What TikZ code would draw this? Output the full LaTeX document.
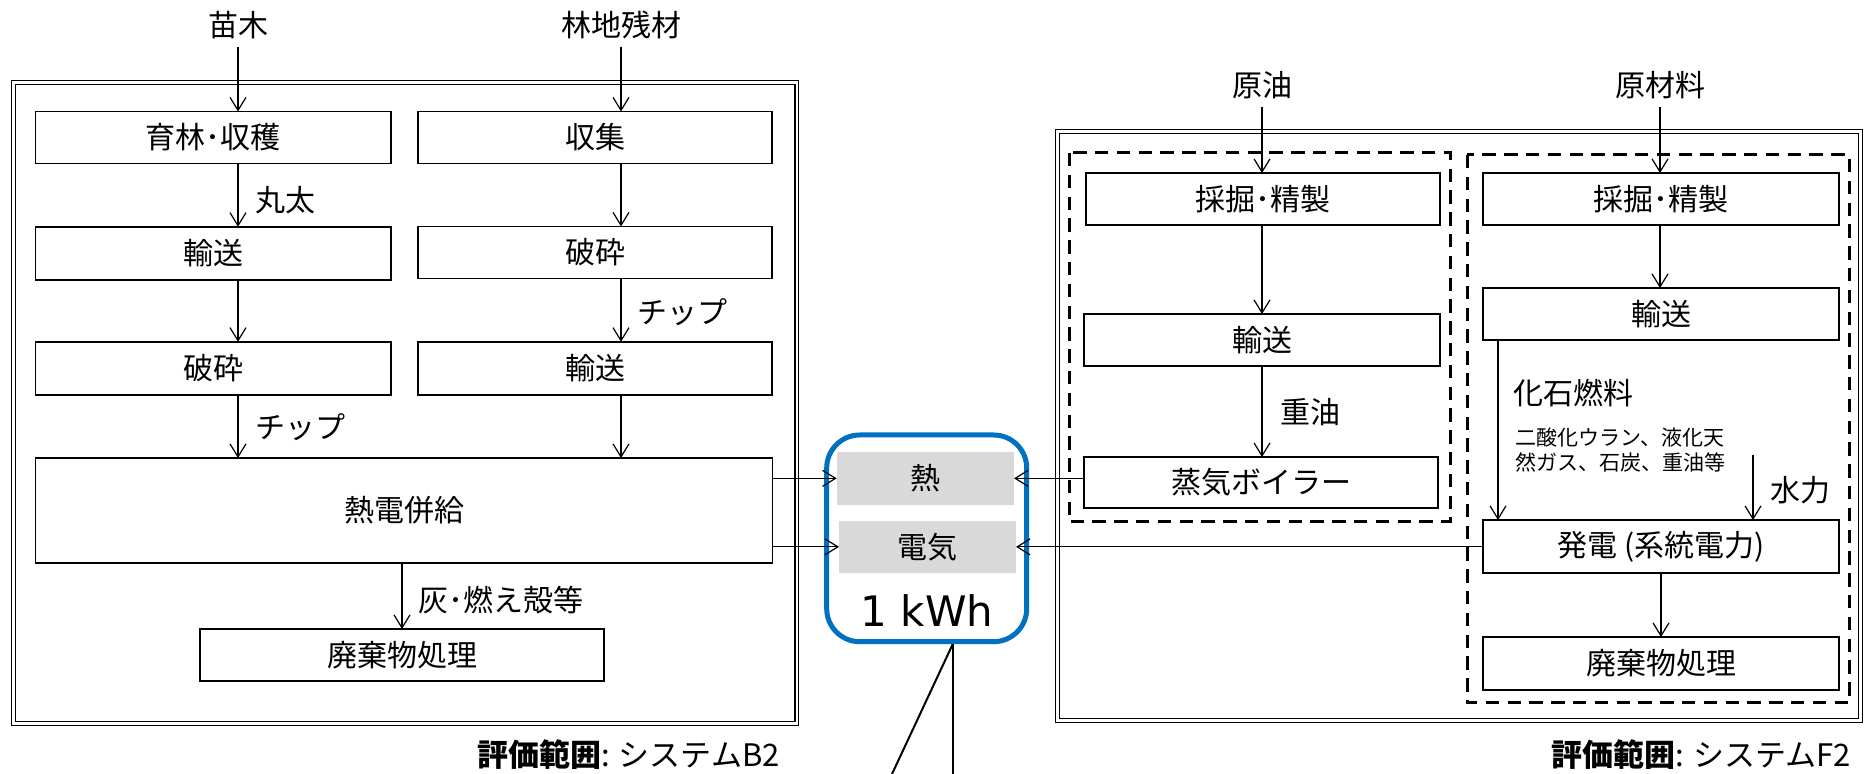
\documentclass[tikz,border=0pt]{standalone}
\usepackage{fontspec}
\setmainfont{Noto Sans CJK JP}
\newfontfamily\latinfont{DejaVu Sans}
\usetikzlibrary{arrows.meta}
\definecolor{frameblue}{HTML}{0070C0}
\definecolor{cellgrey}{HTML}{D9D9D9}
\tikzset{
  box/.style={draw, line width=0.75pt, inner sep=0pt, outer sep=0pt, font=\fontsize{15pt}{18pt}\selectfont},
  lbl/.style={inner sep=0pt, font=\fontsize{15pt}{18pt}\selectfont},
  small/.style={inner sep=0pt, font=\fontsize{10.5pt}{12pt}\selectfont},
  arr/.style={line width=0.6pt, -{Straight Barb[length=6.5pt,width=8pt]}},
  dbl/.style={draw, double, line width=0.55pt, double distance=1.3pt},
  dashbox/.style={draw, line width=1.5pt, dash pattern=on 6.7pt off 4.2pt},
  cell/.style={fill=cellgrey, inner sep=0pt, outer sep=0pt, font=\fontsize{15pt}{18pt}\selectfont},
  lead/.style={line width=1pt},
}
\begin{document}
\begin{tikzpicture}[x=0.5pt,y=-0.5pt]
\useasboundingbox (0,0) rectangle (1865,774);

% ---------- left system B2 ----------
\draw[dbl] (13.5,82.5) rectangle (796.8,723.8);

\node[lbl] (s1) at (238,25) {苗木};
\node[lbl] (s2) at (621,25) {林地残材};

\node[box, minimum width=177.7pt, minimum height=26pt] (A1) at (213.3,137.5) {育林･収穫};
\node[box, minimum width=177pt, minimum height=26pt] (B1) at (595,137.5) {収集};
\node[box, minimum width=177.7pt, minimum height=26.5pt] (A2) at (213.3,253.3) {輸送};
\node[box, minimum width=177pt, minimum height=26pt] (B2) at (595,252.5) {破砕};
\node[box, minimum width=177.7pt, minimum height=26.5pt] (A3) at (213.3,368.3) {破砕};
\node[box, minimum width=177pt, minimum height=26.5pt] (B3) at (595,368.3) {輸送};
\node[box, minimum width=368.5pt, minimum height=52.5pt] (C) at (404,510.5) {熱電併給};
\node[box, minimum width=202pt, minimum height=26pt] (D) at (402,655) {廃棄物処理};

\draw[arr, shorten <=4pt] (s1.south) -- (A1.north -| s1.south);
\draw[arr, shorten <=4pt] (s2.south) -- (B1.north -| s2.south);
\draw[arr] (A1.south -| s1.south) -- (A2.north -| s1.south);
\draw[arr] (A2.south -| s1.south) -- (A3.north -| s1.south);
\draw[arr] (A3.south -| s1.south) -- (C.north -| s1.south);
\draw[arr] (B1.south -| s2.south) -- (B2.north -| s2.south);
\draw[arr] (B2.south -| s2.south) -- (B3.north -| s2.south);
\draw[arr] (B3.south -| s2.south) -- (C.north -| s2.south);
\draw[arr] (C.south -| D.north) -- (D.north);

\node[lbl, anchor=west] (l1) at (255,200) {丸太};
\node[lbl, anchor=west] (l2) at (637,312) {チップ};
\node[lbl, anchor=west] (l3) at (255,427) {チップ};
\node[lbl, anchor=west] (l4) at (418,600) {灰･燃え殻等};

\node[lbl, anchor=east, font=\fontsize{15.5pt}{18pt}\selectfont] (t1) at (780,755) {\textbf{評価範囲}: システムB2};

% ---------- centre 1 kWh ----------
\node[draw=frameblue, line width=2.5pt, rounded corners=16.5pt, minimum width=100pt, minimum height=103.35pt, inner sep=0pt] (K) at (926.7,538.35) {};
\node[cell, minimum width=88.65pt, minimum height=26.65pt] (H) at (925.35,478.35) {熱};
\node[cell, minimum width=88.5pt, minimum height=25.85pt] (E) at (927.5,546.85) {電気};
\node[inner sep=0pt, font=\latinfont\fontsize{21pt}{24pt}\selectfont] (kwh) at (927,611) {1 kWh};

\draw[arr] (C.east |- H.west) -- (H.west);
\draw[arr] (C.east |- E.west) -- (E.west);

\coordinate (b1) at (952.7,774);
\coordinate (b2) at (892,774);
\draw[lead] (K.south -| b1) -- (b1);
\draw[lead] (K.south -| b1) -- (b2);

% ---------- right system F2 ----------
\draw[dbl] (1057.5,131.5) rectangle (1860.5,720.5);
\draw[dashbox] (1069,153) rectangle (1450,522);
\draw[dashbox] (1467,155) rectangle (1849,703);

\node[lbl] (s3) at (1262,85) {原油};
\node[lbl] (s4) at (1660,85) {原材料};

\node[box, minimum width=177pt, minimum height=26pt] (E1) at (1263,199) {採掘･精製};
\node[box, minimum width=178pt, minimum height=26pt] (E2) at (1262,340) {輸送};
\node[box, minimum width=177pt, minimum height=25.5pt] (E3) at (1261,482.5) {蒸気ボイラー};
\node[box, minimum width=178pt, minimum height=26pt] (F1) at (1661,199) {採掘･精製};
\node[box, minimum width=178pt, minimum height=26pt] (F2) at (1661,314) {輸送};
\node[box, minimum width=178pt, minimum height=26.5pt] (F3) at (1661,546.5) {発電 (系統電力)};
\node[box, minimum width=178pt, minimum height=26.5pt] (F4) at (1661,663.5) {廃棄物処理};

\draw[arr, shorten <=4pt] (s3.south) -- (E1.north -| s3.south);
\draw[arr, shorten <=4pt] (s4.south) -- (F1.north -| s4.south);
\draw[arr] (E1.south -| s3.south) -- (E2.north -| s3.south);
\draw[arr] (E2.south) -- (E3.north -| E2.south);
\draw[arr] (F1.south -| s4.south) -- (F2.north -| s4.south);
\coordinate (fx) at (1498,0);
\draw[arr] (F2.south -| fx) -- (F3.north -| fx);
\coordinate (hy) at (1753,455);
\draw[arr] (hy) -- (F3.north -| hy);
\draw[arr] (F3.south) -- (F4.north);

\draw[arr] (E3.west |- H.east) -- (H.east);
\draw[arr] (F3.west |- E.east) -- (E.east);

\node[lbl, anchor=west] (l5) at (1280,412) {重油};
\node[lbl, anchor=west] (l6) at (1513,393) {化石燃料};
\node[small, anchor=west] (l7) at (1515,438) {二酸化ウラン、液化天};
\node[small, anchor=west] (l8) at (1515,462) {然ガス、石炭、重油等};
\node[lbl] (l9) at (1800,490) {水力};

\node[lbl, anchor=east, font=\fontsize{15.5pt}{18pt}\selectfont] (t2) at (1851,755) {\textbf{評価範囲}: システムF2};
\end{tikzpicture}
\end{document}
